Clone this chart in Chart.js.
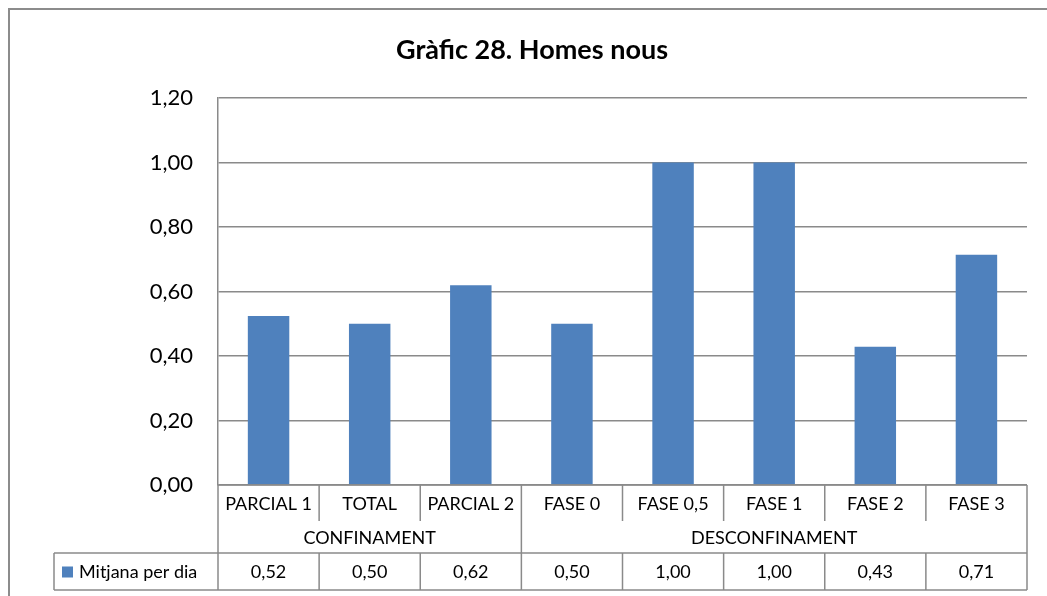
<!DOCTYPE html>
<html>
<head>
<meta charset="utf-8">
<script src="https://cdn.jsdelivr.net/npm/chart.js@4/dist/chart.umd.min.js"></script>
<style>
  html, body { margin: 0; padding: 0; background: #fff; }
  canvas { display: block; }
</style>
</head>
<body>
<canvas id="c" width="1047" height="596"></canvas>
<script>
const titleText = 'Gràfic 28. Homes nous';
const categories = ['PARCIAL 1', 'TOTAL', 'PARCIAL 2', 'FASE 0', 'FASE 0,5', 'FASE 1', 'FASE 2', 'FASE 3'];
const groups = ['CONFINAMENT', 'DESCONFINAMENT'];
const groupSizes = [3, 5];
const seriesName = 'Mitjana per dia';
const values = [0.524, 0.50, 0.619, 0.50, 1.00, 1.00, 0.429, 0.714];
const yTicks = [0, 0.2, 0.4, 0.6, 0.8, 1.0, 1.2];

const FONT = 'Lato, "Open Sans", sans-serif';
const GRID = '#8a8a8a';
const BAR = '#4F81BD';

function fmt(v) { return v.toFixed(2).replace('.', ','); }

const tablePlugin = {
  id: 'tablePlugin',
  beforeDraw(chart) {
    const ctx = chart.ctx;
    ctx.save();
    ctx.fillStyle = '#fff';
    ctx.fillRect(0, 0, chart.width, chart.height);
    ctx.strokeStyle = '#8c8c8c';
    ctx.lineWidth = 2;
    ctx.strokeRect(9, 9, 1200, 800);
    ctx.fillStyle = '#000';
    ctx.font = 'bold 27px ' + FONT;
    ctx.textAlign = 'center';
    ctx.textBaseline = 'middle';
    ctx.fillText(titleText, 532, 50);
    ctx.restore();
  },
  afterDraw(chart) {
    const ctx = chart.ctx;
    const xs = chart.scales.x;
    const area = chart.chartArea;
    const n = categories.length;
    const cw = (area.right - area.left) / n;
    const top = area.bottom;
    const r1 = top + 36;
    const r2 = top + 68;
    const r3 = top + 105;
    const legendLeft = 54;
    ctx.save();
    ctx.strokeStyle = GRID;
    ctx.lineWidth = 1.5;
    ctx.beginPath();
    ctx.moveTo(area.left, top); ctx.lineTo(area.right, top);
    ctx.moveTo(legendLeft, r2); ctx.lineTo(area.right, r2);
    ctx.moveTo(legendLeft, r3); ctx.lineTo(area.right, r3);
    ctx.moveTo(legendLeft, r2); ctx.lineTo(legendLeft, r3);
    ctx.moveTo(area.left, top); ctx.lineTo(area.left, r3);
    ctx.moveTo(area.right, top); ctx.lineTo(area.right, r3);
    let groupEdges = [];
    let acc = 0;
    groupSizes.forEach(s => { acc += s; groupEdges.push(acc); });
    for (let i = 1; i < n; i++) {
      const x = xs.getPixelForValue(i) - cw / 2;
      if (groupEdges.includes(i)) {
        ctx.moveTo(x, top); ctx.lineTo(x, r3);
      } else {
        ctx.moveTo(x, top); ctx.lineTo(x, r1);
        ctx.moveTo(x, r2); ctx.lineTo(x, r3);
      }
    }
    ctx.stroke();

    ctx.fillStyle = '#000';
    ctx.font = '18px ' + FONT;
    ctx.textAlign = 'center';
    ctx.textBaseline = 'middle';
    for (let i = 0; i < n; i++) {
      const x = xs.getPixelForValue(i);
      ctx.fillText(categories[i], x, (top + r1) / 2 + 1);
      ctx.fillText(fmt(values[i]), x, (r2 + r3) / 2 + 1);
    }
    let start = 0;
    groups.forEach((g, gi) => {
      const end = start + groupSizes[gi] - 1;
      const x0 = xs.getPixelForValue(start) - cw / 2;
      const x1 = xs.getPixelForValue(end) + cw / 2;
      ctx.fillText(g, (x0 + x1) / 2, (r1 + r2) / 2 + 1);
      start = end + 1;
    });
    ctx.fillStyle = BAR;
    ctx.fillRect(62, (r2 + r3) / 2 - 5, 11, 11);
    ctx.fillStyle = '#000';
    ctx.textAlign = 'left';
    ctx.fillText(seriesName, 79, (r2 + r3) / 2 + 1);
    ctx.restore();
  }
};

new Chart(document.getElementById('c'), {
  type: 'bar',
  data: {
    labels: categories,
    datasets: [{
      label: seriesName,
      data: values,
      backgroundColor: BAR,
      borderWidth: 0,
      barPercentage: 0.41,
      categoryPercentage: 1.0
    }]
  },
  options: {
    responsive: false,
    animation: false,
    layout: { padding: { left: 0, right: 20, top: 98, bottom: 111 } },
    plugins: {
      legend: { display: false },
      title: { display: false },
      tooltip: { enabled: false }
    },
    scales: {
      x: {
        ticks: { display: false },
        grid: { display: false, drawTicks: false },
        border: { display: false }
      },
      y: {
        min: 0,
        max: 1.2,
        afterFit(scale) { scale.width = 218; },
        afterBuildTicks(scale) { scale.ticks = yTicks.map(v => ({ value: v })); },
        ticks: {
          padding: 25,
          color: '#000',
          font: { family: FONT, size: 22 },
          callback: v => fmt(v)
        },
        grid: { color: GRID, lineWidth: 1.5, drawTicks: false },
        border: { display: true, color: GRID, width: 1.5 }
      }
    }
  },
  plugins: [tablePlugin]
});
</script>
</body>
</html>
